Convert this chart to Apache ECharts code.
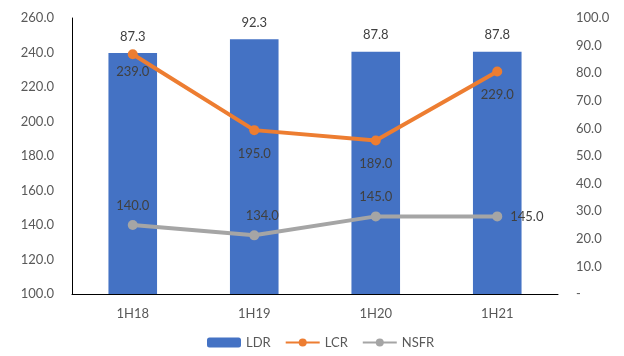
<!DOCTYPE html>
<html>
<head>
<meta charset="utf-8">
<script src="https://cdn.jsdelivr.net/npm/echarts@6/dist/echarts.min.js"></script>
<style>
  html, body { margin: 0; padding: 0; background: #fff; }
  #container { width: 624px; height: 356px; }
</style>
</head>
<body>
<div id="container"></div>
<script>
var categories = ['1H18', '1H19', '1H20', '1H21'];
var ldr = [87.3, 92.3, 87.8, 87.8];
var lcr = [239.0, 195.0, 189.0, 229.0];
var nsfr = [140.0, 134.0, 145.0, 145.0];

// label placement per point, as in the original
var lcrPos = ['bottom', 'bottom', 'bottom', 'bottom'];
var nsfrPos = ['top', 'top', 'top', 'right'];

var dom = document.getElementById('container');
var myChart = echarts.init(dom);
var fontName = 'Lato';

var lcrData = lcr.map(function (v, i) {
  return { value: v, label: { position: lcrPos[i], distance: i === 0 ? 6 : 12 } };
});
var nsfrData = nsfr.map(function (v, i) {
  var lbl = { position: nsfrPos[i], distance: 8 };
  if (i === 1) lbl.offset = [8, 0];
  return { value: v, label: lbl };
});

var option = {
  animation: false,
  textStyle: { fontFamily: fontName },
  grid: { left: 72, right: 66, top: 18, bottom: 62 },
  legend: {
    bottom: 2,
    left: 202,
    itemWidth: 34,
    itemHeight: 10,
    itemGap: 14,
    textStyle: { fontSize: 13, color: '#595959', fontFamily: fontName },
    data: ['LDR', 'LCR', 'NSFR']
  },
  xAxis: {
    type: 'category',
    data: categories,
    axisTick: { show: false },
    axisLine: { lineStyle: { color: '#000', width: 1 } },
    axisLabel: { color: '#595959', fontSize: 13, margin: 13 }
  },
  yAxis: [{
    type: 'value',
    min: 100,
    max: 260,
    interval: 20,
    splitLine: { show: false },
    axisLine: { show: true, lineStyle: { color: '#000', width: 1 } },
    axisTick: { show: false },
    axisLabel: {
      color: '#595959', fontSize: 13, margin: 18,
      formatter: function (v) { return v.toFixed(1); }
    }
  }, {
    type: 'value',
    min: 0,
    max: 100,
    interval: 10,
    splitLine: { show: false },
    axisLine: { show: false },
    axisTick: { show: false },
    axisLabel: {
      color: '#595959', fontSize: 13, margin: 18,
      formatter: function (v) { return v === 0 ? '-' : v.toFixed(1); }
    }
  }],
  series: [{
    name: 'LDR',
    type: 'bar',
    yAxisIndex: 1,
    barWidth: '40%',
    itemStyle: { color: '#4472C4' },
    label: {
      show: true, position: 'top', distance: 10,
      color: '#404040', fontSize: 13,
      formatter: function (p) { return p.value.toFixed(1); }
    },
    data: ldr
  }, {
    name: 'LCR',
    type: 'line',
    yAxisIndex: 0,
    symbol: 'circle',
    symbolSize: 10,
    lineStyle: { color: '#ED7D31', width: 4 },
    itemStyle: { color: '#ED7D31' },
    label: {
      show: true, color: '#404040', fontSize: 13,
      formatter: function (p) { return p.value.toFixed(1); }
    },
    data: lcrData
  }, {
    name: 'NSFR',
    type: 'line',
    yAxisIndex: 0,
    symbol: 'circle',
    symbolSize: 10,
    lineStyle: { color: '#A5A5A5', width: 4 },
    itemStyle: { color: '#A5A5A5' },
    label: {
      show: true, color: '#404040', fontSize: 13,
      formatter: function (p) { return p.value.toFixed(1); }
    },
    data: nsfrData
  }]
};

myChart.setOption(option);
</script>
</body>
</html>
